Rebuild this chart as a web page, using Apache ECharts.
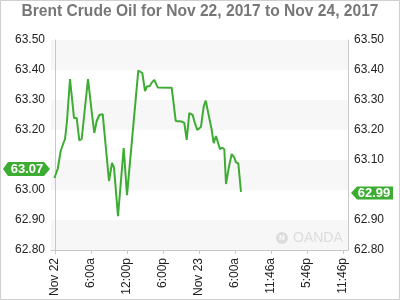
<!DOCTYPE html>
<html>
<head>
<meta charset="utf-8">
<script src="https://cdn.jsdelivr.net/npm/echarts@6/dist/echarts.min.js"></script>
<style>
html,body{margin:0;padding:0;background:#fff;}
#c{width:400px;height:300px;}
</style>
</head>
<body>
<div id="c"></div>
<script>
// Hours since Nov 22 00:00
var hours = [-0.1,0.45,0.95,1.38,1.67,2.0,2.5,3.17,3.62,4.05,4.45,5.5,6.12,6.55,6.95,7.38,7.95,8.17,9.0,9.5,9.83,10.5,11.45,12.0,13.88,14.55,15.0,15.33,15.83,16.12,16.55,17.12,19.45,20.12,21.12,21.55,21.95,22.38,22.95,23.33,23.72,24.05,24.33,24.78,25.12,25.45,26.12,26.45,26.83,27.5,27.88,28.22,28.5,29.0,29.45,29.88,30.17,30.55,31.0];
var prices = [63.04,63.07,63.13,63.155,63.17,63.23,63.37,63.24,63.24,63.165,63.17,63.37,63.26,63.19,63.23,63.25,63.253,63.25,63.03,63.09,63.075,62.913,63.14,62.983,63.398,63.39,63.33,63.345,63.347,63.358,63.367,63.342,63.341,63.23,63.228,63.224,63.167,63.256,63.25,63.222,63.2,63.194,63.211,63.278,63.298,63.3,63.2,63.156,63.18,63.136,63.141,63.136,63.02,63.078,63.12,63.108,63.092,63.089,62.994];
var tickHours = [0,6,12,18,24,30,36,42,48];
var tickLabels = ['Nov 22','6:00a','12:00p','6:00p','Nov 23','6:00a','11:46a','5:46p','11:46p'];
var openPrice = 63.07;
var lastPrice = 62.99;
var titleText = 'Brent Crude Oil for Nov 22, 2017 to Nov 24, 2017';

var green = '#3dac32';
var chart = echarts.init(document.getElementById('c'), null, {renderer:'canvas'});
var data = hours.map(function(h,i){return [h, prices[i]];});
function yAxisDef(pos, tagVal, area){
  return {
    type:'value', min:62.8, max:63.5, interval:0.1, position:pos,
    axisLine:{show:true, lineStyle:{color:'#c8c8c8'}},
    axisTick:{show:false},
    splitLine:{show:false},
    splitArea:{show:area, areaStyle:{color:['#f7f7f7','#ffffff']}},
    axisLabel:{fontFamily:'Liberation Sans', fontSize:12, color:'#222', margin:6,
      formatter:function(v){return Math.abs(v-tagVal)<0.045 ? '' : v.toFixed(2);}}
  };
}
chart.setOption({
  animation:false,
  title:{text:titleText, left:'center', top:4, padding:0,
    textStyle:{fontFamily:'Liberation Sans', fontSize:15.6, fontWeight:'bold', color:'#777'}},
  grid:{left:51, right:52, top:40, bottom:50},
  xAxis:{
    type:'value', min:-0.6667, max:48.8333,
    axisLine:{show:true, onZero:false, lineStyle:{color:'#c8c8c8'}},
    axisTick:{show:true, length:4, lineStyle:{color:'#c8c8c8'}, customValues:tickHours},
    splitLine:{show:false},
    axisLabel:{rotate:90, margin:8, fontFamily:'Liberation Sans', fontSize:12, color:'#222',
      customValues:tickHours,
      formatter:function(v){var i=tickHours.indexOf(Math.round(v)); return i>=0?tickLabels[i]:'';}}
  },
  yAxis:[ yAxisDef('left', openPrice, true), yAxisDef('right', lastPrice, false) ],
  series:[{
    type:'line', data:data, showSymbol:false, symbol:'none',
    lineStyle:{color:green, width:2}, yAxisIndex:0
  }]
});

var yo = chart.convertToPixel({yAxisIndex:0}, openPrice);
var yl = chart.convertToPixel({yAxisIndex:0}, lastPrice);
chart.setOption({
  graphic:[
    {type:'rect', shape:{x:0.5,y:0.5,width:399,height:299}, style:{fill:null, stroke:'#cfcfcf', lineWidth:1}, silent:true, z:100},
    {type:'polygon', shape:{points:[[3,yo],[8,yo-7],[44,yo-7],[50,yo],[44,yo+7],[8,yo+7]]}, style:{fill:green}, z:50},
    {type:'text', x:27, y:yo, style:{text:openPrice.toFixed(2), fill:'#fff', font:'bold 13px "Liberation Sans"', align:'center', verticalAlign:'middle'}, z:51},
    {type:'polygon', shape:{points:[[351,yl],[357,yl-6.5],[393,yl-6.5],[393,yl+6.5],[357,yl+6.5]]}, style:{fill:green}, z:50},
    {type:'text', x:374, y:yl, style:{text:lastPrice.toFixed(2), fill:'#fff', font:'bold 13px "Liberation Sans"', align:'center', verticalAlign:'middle'}, z:51},
    {type:'circle', shape:{cx:282, cy:238, r:6}, style:{fill:'#dcdcdc'}, z:10},
    {type:'text', x:282, y:238, style:{text:'N', fill:'#fff', font:'bold 8px "Liberation Sans"', align:'center', verticalAlign:'middle'}, z:11},
    {type:'text', x:293, y:238, style:{text:'OANDA', fill:'#dcdcdc', font:'14px "Liberation Sans"', align:'left', verticalAlign:'middle'}, z:10}
  ]
});
</script>
</body>
</html>
